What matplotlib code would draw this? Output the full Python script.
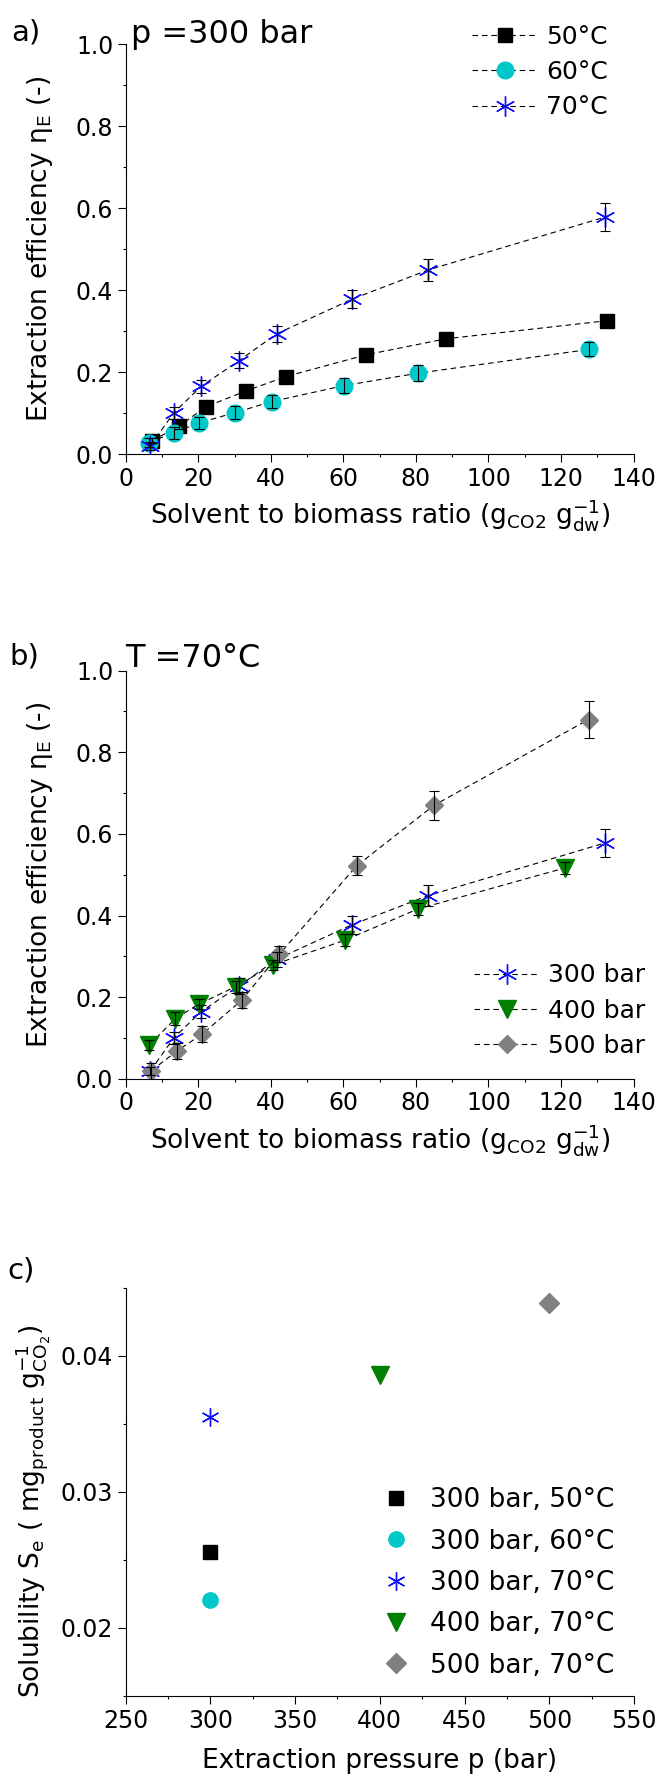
# -*- coding: utf-8 -*-
import matplotlib
matplotlib.use('Agg')
from matplotlib import pyplot as plt
from matplotlib.ticker import MultipleLocator

# a) p = 300 bar, three temperatures
ratio_50 = [7.2, 14.7, 22.1, 33.2, 44.2, 66.3, 88.3, 132.6]
eta_50 = [0.032, 0.068, 0.115, 0.154, 0.189, 0.242, 0.281, 0.325]
err_50 = [0.006, 0.008, 0.006, 0.007, 0.008, 0.008, 0.008, 0.014]

ratio_60 = [6.4, 13.3, 20.2, 30.2, 40.3, 60.3, 80.5, 127.7]
eta_60 = [0.028, 0.052, 0.076, 0.101, 0.128, 0.167, 0.197, 0.255]
err_60 = [0.010, 0.015, 0.015, 0.015, 0.015, 0.019, 0.020, 0.017]

ratio_70 = [6.8, 13.2, 20.8, 31.3, 41.6, 62.5, 83.4, 132.2]
eta_70 = [0.020, 0.100, 0.165, 0.228, 0.293, 0.378, 0.449, 0.578]
err_70 = [0.010, 0.015, 0.016, 0.019, 0.019, 0.022, 0.026, 0.034]

# b) T = 70 C, three pressures (300 bar = the 70 C run of panel a)
ratio_400 = [6.5, 13.7, 20.3, 30.3, 40.5, 60.5, 80.5, 121.2]
eta_400 = [0.083, 0.148, 0.184, 0.226, 0.279, 0.340, 0.416, 0.517]
err_400 = [0.012, 0.015, 0.012, 0.015, 0.012, 0.015, 0.015, 0.015]

ratio_500 = [7.0, 14.2, 21.1, 32.0, 42.4, 63.7, 85.0, 127.6]
eta_500 = [0.020, 0.069, 0.110, 0.193, 0.306, 0.522, 0.670, 0.880]
err_500 = [0.020, 0.020, 0.020, 0.020, 0.020, 0.023, 0.035, 0.045]

# c) solubility
pressure = [300, 300, 300, 400, 500]
solubility = [0.02558, 0.02203, 0.0355, 0.03855, 0.0439]
sol_labels = ['300 bar, 50°C', '300 bar, 60°C', '300 bar, 70°C',
              '400 bar, 70°C', '500 bar, 70°C']

CYAN = '#00C8C8'
BLUE = '#1010FF'
GREEN = '#008000'
GRAY = '#808080'
STAR = (6, 2, 0)

W, H = 659.0, 1777.0


def box(top, bottom, left=125.7, right=633.5):
    return [left / W, 1 - bottom / H, (right - left) / W, (bottom - top) / H]


def style_axes(ax):
    for s in ['top', 'right']:
        ax.spines[s].set_visible(False)
    for s in ['left', 'bottom']:
        ax.spines[s].set_linewidth(0.8)
    ax.tick_params(which='major', direction='out', length=6, width=0.8,
                   labelsize=17, pad=3)
    ax.tick_params(which='minor', direction='out', length=2.5, width=0.8)


def series(ax, x, y, err, label, **kw):
    ax.plot(x, y, color='black', lw=0.8, linestyle=(0, (5, 3.5)),
            label=label, zorder=3, **kw)
    ax.errorbar(x, y, yerr=err, fmt='none', ecolor='black', elinewidth=0.8,
                capsize=3.5, capthick=0.8, zorder=4)


def ratio_axes(ax):
    style_axes(ax)
    ax.set_xlim(0, 140)
    ax.set_ylim(0, 1.0)
    ax.xaxis.set_major_locator(MultipleLocator(20))
    ax.xaxis.set_minor_locator(MultipleLocator(10))
    ax.yaxis.set_major_locator(MultipleLocator(0.2))
    ax.yaxis.set_minor_locator(MultipleLocator(0.1))
    ax.yaxis.set_major_formatter(plt.FormatStrFormatter('%.1f'))
    ax.set_xlabel(r'Solvent to biomass ratio (g$_{\mathrm{CO2}}$ '
                  r'g$_{\mathrm{dw}}^{\mathrm{-1}}$)', fontsize=19, va='top')
    ax.xaxis.set_label_coords(0.5, -0.105)
    ax.set_ylabel(r'Extraction efficiency η$_{\mathrm{E}}$ (-)', fontsize=19)
    ax.yaxis.set_label_coords(-0.139, 0.5)


def legend_at(ax, x, y, **kw):
    opts = dict(loc='center left', bbox_to_anchor=(x / W, 1 - y / H),
                bbox_transform=fig.transFigure, frameon=False, fontsize=18,
                handlelength=2.6, handletextpad=0.35, labelspacing=0.45,
                borderpad=0, borderaxespad=0)
    opts.update(kw)
    ax.legend(**opts)


fig = plt.figure(figsize=(W / 100, H / 100), dpi=100)

# ---- a)
ax1 = fig.add_axes(box(44, 454))
series(ax1, ratio_50, eta_50, err_50, '50°C', marker='s', ms=9.6,
       mfc='black', mec='black')
series(ax1, ratio_60, eta_60, err_60, '60°C', marker='o', ms=12,
       mfc=CYAN, mec=CYAN)
series(ax1, ratio_70, eta_70, err_70, '70°C', marker=STAR, ms=14.4,
       mfc=BLUE, mec=BLUE, mew=1.0)
ratio_axes(ax1)
legend_at(ax1, 472, 72)
fig.text(130.7 / W, 1 - 42.7 / H, 'p =300 bar', fontsize=23, va='baseline')
fig.text(11 / W, 1 - 40 / H, 'a)', fontsize=21, va='baseline')

# ---- b)
ax2 = fig.add_axes(box(670.5, 1079))
series(ax2, ratio_70, eta_70, err_70, '300 bar', marker=STAR, ms=14.4,
       mfc=BLUE, mec=BLUE, mew=1.0)
series(ax2, ratio_400, eta_400, err_400, '400 bar', marker='v', ms=13,
       mfc=GREEN, mec=GREEN)
series(ax2, ratio_500, eta_500, err_500, '500 bar', marker='D', ms=9.3,
       mfc=GRAY, mec=GRAY)
ratio_axes(ax2)
legend_at(ax2, 474, 1010.6)
fig.text(125 / W, 1 - 666.7 / H, 'T =70°C', fontsize=23, va='baseline')
fig.text(9 / W, 1 - 664 / H, 'b)', fontsize=21, va='baseline')

# ---- c)
ax3 = fig.add_axes(box(1287.7, 1696, right=634))
sol_styles = [dict(marker='s', ms=10.6, mfc='black', mec='black'),
              dict(marker='o', ms=11, mfc=CYAN, mec=CYAN),
              dict(marker=STAR, ms=13, mfc=BLUE, mec=BLUE, mew=1.0),
              dict(marker='v', ms=13, mfc=GREEN, mec=GREEN),
              dict(marker='D', ms=10.5, mfc=GRAY, mec=GRAY)]
for p, s, lab, st in zip(pressure, solubility, sol_labels, sol_styles):
    ax3.plot([p], [s], linestyle='none', label=lab, **st)
style_axes(ax3)
ax3.set_xlim(250, 550)
ax3.set_ylim(0.015, 0.045)
ax3.xaxis.set_major_locator(MultipleLocator(50))
ax3.xaxis.set_minor_locator(MultipleLocator(25))
ax3.yaxis.set_major_locator(MultipleLocator(0.01))
ax3.yaxis.set_minor_locator(MultipleLocator(0.005))
ax3.yaxis.set_major_formatter(plt.FormatStrFormatter('%.2f'))
ax3.set_xlabel('Extraction pressure p (bar)', fontsize=19, va='top')
ax3.xaxis.set_label_coords(0.5, -0.127)
ax3.set_ylabel(r'Solubility S$_{\mathrm{e}}$ ( mg$_{\mathrm{product}}$ '
               r'g$^{\mathrm{-1}}_{\mathrm{CO_2}}$)', fontsize=19)
ax3.yaxis.set_label_coords(-0.143, 0.453)
legend_at(ax3, 382.8, 1583, fontsize=19, handlelength=1.0,
          handletextpad=0.79, labelspacing=0.58, numpoints=1)
fig.text(7 / W, 1 - 1278 / H, 'c)', fontsize=21, va='baseline')

fig.savefig('out.png', dpi=100)
plt.close(fig)
